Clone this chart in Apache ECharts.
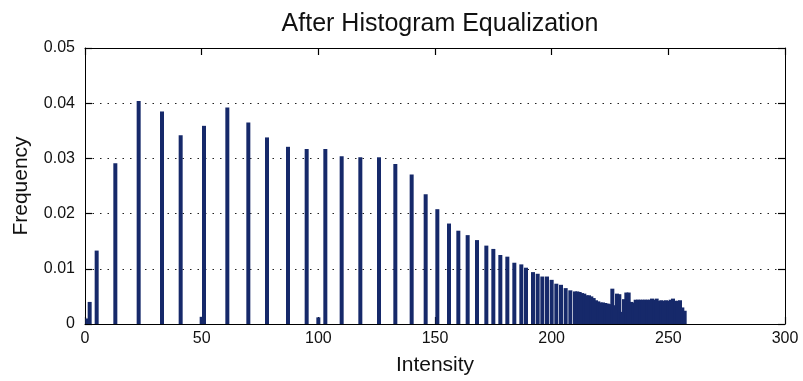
<!DOCTYPE html>
<html>
<head>
<meta charset="utf-8">
<script src="https://cdn.jsdelivr.net/npm/echarts@6/dist/echarts.min.js"></script>
<style>
  html, body { margin: 0; padding: 0; background: #fff; }
  #chart { width: 803px; height: 381px; }
</style>
</head>
<body>
<div id="chart"></div>
<script>
// isolated output levels (spread out part of the equalized histogram)
const peakIntensity = [1, 2, 5, 13, 23, 33, 41, 50, 51, 61, 70, 78, 87, 95, 100, 103, 110, 118, 126, 133,
  140, 146, 151, 156, 160, 164, 168, 172, 175, 178, 181, 184, 187, 189, 192, 194, 196, 198, 200, 202,
  204, 206, 208];
const peakFrequency = [0.0010, 0.0040, 0.0133, 0.0291, 0.0404, 0.0385, 0.0342, 0.0013, 0.0359, 0.0392,
  0.0365, 0.0338, 0.0321, 0.0317, 0.0012, 0.0317, 0.0304, 0.0302, 0.0302, 0.0290,
  0.0271, 0.0235, 0.0208, 0.0182, 0.0169, 0.0161, 0.0152, 0.0142, 0.0136, 0.0125,
  0.0122, 0.0111, 0.0108, 0.0102, 0.0094, 0.0091, 0.0086, 0.0086, 0.0080, 0.0073,
  0.0071, 0.0065, 0.0061];

// dense tail, one bin per level
const tailIntensity = [210, 211, 212, 213, 214, 215, 216, 217, 218, 219, 220, 221, 222, 223, 224, 225,
  226, 227, 228, 229, 230, 231, 232, 233, 234, 235, 236, 237, 238, 239, 240, 241,
  242, 243, 244, 245, 246, 247, 248, 249, 250, 251, 252, 253, 254, 255, 256, 257];
const tailFrequency = [0.0059, 0.0059, 0.0058, 0.0056, 0.0055, 0.0052, 0.0052, 0.0050, 0.0047, 0.0043,
  0.0041, 0.0039, 0.0039, 0.0038, 0.0037, 0.0036, 0.0064, 0.0034, 0.0055, 0.0054,
  0.0022, 0.0045, 0.0057, 0.0057, 0.0040, 0.0039, 0.0044, 0.0044, 0.0044, 0.0044,
  0.0044, 0.0044, 0.0044, 0.0046, 0.0044, 0.0046, 0.0042, 0.0043, 0.0042, 0.0043,
  0.0042, 0.0044, 0.0046, 0.0042, 0.0042, 0.0043, 0.0030, 0.0024];

const font = '"Liberation Sans", Arial, Helvetica, sans-serif';
const barData = peakIntensity.map((x, i) => [x, peakFrequency[i]])
  .concat(tailIntensity.map((x, i) => [x, tailFrequency[i]]));

const chart = echarts.init(document.getElementById('chart'));

// matlab style box: axis line on all four sides, ticks pointing inward
const lineStyle = { color: '#000', width: 1 };
const tickStyle = { show: true, inside: true, length: 7, lineStyle: { color: '#000', width: 1.2 } };

chart.setOption({
  animation: false,
  title: {
    text: 'After Histogram Equalization',
    left: 435,
    textAlign: 'center',
    top: 7,
    textStyle: { fontFamily: font, fontSize: 25, fontWeight: 'normal', color: '#111' }
  },
  grid: { left: 85, right: 18, top: 48, bottom: 52 },
  xAxis: [
    {
      type: 'value', min: 0, max: 300, interval: 50,
      splitLine: { show: false },
      axisLine: { show: true, onZero: false, lineStyle: lineStyle },
      axisTick: tickStyle,
      axisLabel: { color: '#111', fontFamily: font, fontSize: 16, margin: 7 },
      name: 'Intensity', nameLocation: 'middle', nameGap: 31,
      nameTextStyle: { color: '#111', fontFamily: font, fontSize: 21 }
    },
    {
      type: 'value', position: 'top', min: 0, max: 300, interval: 50,
      splitLine: { show: false },
      axisLine: { show: true, onZero: false, lineStyle: lineStyle },
      axisTick: tickStyle,
      axisLabel: { show: false }
    }
  ],
  yAxis: [
    {
      type: 'value', min: 0, max: 0.05, interval: 0.01,
      splitLine: { show: true, lineStyle: { color: '#222', type: [1.5, 6], width: 1 } },
      axisLine: { show: true, onZero: false, lineStyle: lineStyle },
      axisTick: tickStyle,
      axisLabel: {
        color: '#111', fontFamily: font, fontSize: 16, margin: 10,
        formatter: v => v === 0 ? '0' : v.toFixed(2)
      },
      name: 'Frequency', nameLocation: 'middle', nameGap: 53, nameRotate: 90,
      nameTextStyle: { color: '#111', fontFamily: font, fontSize: 21 }
    },
    {
      type: 'value', position: 'right', min: 0, max: 0.05, interval: 0.01,
      splitLine: { show: false },
      axisLine: { show: true, onZero: false, lineStyle: lineStyle },
      axisTick: tickStyle,
      axisLabel: { show: false }
    }
  ],
  series: [
    {
      type: 'bar',
      xAxisIndex: 0,
      yAxisIndex: 0,
      data: barData,
      barWidth: 4,
      itemStyle: { color: '#16296a' }
    }
  ]
});
</script>
</body>
</html>
